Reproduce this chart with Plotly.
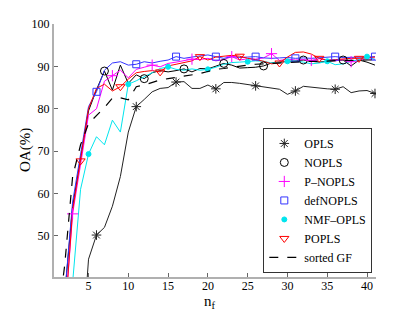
import plotly.graph_objects as go

n_f = list(range(1, 42))

opls = [10, 12, 15, 18, 44.5, 50.2, 52, 57, 64, 74.5,
        80.5, 82.2, 84, 84.8, 85, 86.3, 86.4, 84.8, 84.8, 85.6,
        84.7, 86.2, 86.2, 86.0, 85.7, 85.4, 85.2, 84.9, 84.6, 83.4,
        84.2, 85.3, 85.1, 84.8, 84.7, 84.6, 85.2, 83.8, 84.2, 84.3, 83.6]
nopls = [20, 36, 57, 68, 79.5, 84.5, 88.9, 84.4, 90.3, 86,
         88, 87.1, 88.5, 89, 88.7, 89, 89.4, 88.7, 89.5, 89.4,
         90, 90.7, 90.3, 89.6, 89.7, 89.8, 90.1, 90.8, 91, 91.2,
         91.3, 91.5, 91.2, 91.0, 91.2, 91.3, 91.5, 90.1, 91.5, 91.0, 90.3]
p_nopls = [20, 30, 55.2, 66.5, 78.5, 80, 86.5, 87.8, 89.1, 87.3,
           89.3, 89.8, 90.3, 89.9, 90.7, 91.0, 91.3, 91.7, 91.6, 91.9,
           91.3, 91.6, 92.3, 91.5, 91.8, 91.7, 92.0, 93.0, 91.4, 91.7,
           91.5, 91.6, 91.4, 91.8, 91.5, 91.3, 91.6, 91.1, 91.6, 91.8, 91.7]
defnopls = [20, 36, 58, 69, 80.5, 84, 89.1, 90.8, 91.1, 90.3,
            90.5, 91.1, 90.8, 91.2, 91.5, 92.3, 91.9, 92.2, 92.5, 92.7,
            92.3, 91.9, 92.3, 92.1, 92.2, 92.3, 92.0, 91.9, 92.0, 92.1,
            91.9, 92.0, 91.9, 92.0, 92.2, 92.3, 92.1, 92.1, 92.2, 92.2, 92.3]
nmf_opls = [15, 25, 39, 61, 69.3, 73.4, 71.5, 77.3, 74.5, 85.8,
            86.6, 87.5, 88.5, 89.5, 89.9, 89.3, 89.1, 89.4, 89.1, 89.3,
            89.8, 90.5, 90.9, 91.0, 91.1, 91.3, 91.2, 90.8, 91.0, 91.2,
            91.3, 91.0, 90.6, 90.8, 91.2, 90.4, 90.6, 91.2, 91.6, 92.3, 91.6]
popls = [20, 30, 56, 67.7, 80, 84.8, 85.8, 84.2, 85.2, 87,
         88.5, 88.8, 89.0, 88.7, 90.1, 90.5, 90.9, 91.3, 92.3, 91.5,
         92.2, 92.4, 92.6, 92.4, 91.9, 91.6, 91.2, 90.6, 90.8, 92.2,
         93.3, 93.4, 92.9, 91.9, 91.5, 91.6, 91.8, 91.9, 91.9, 92.1, 92.2]
sorted_gf = [28, 43, 64, 71.5, 76.5, 78.3, 80.3, 82.5, 82.6, 82.1,
             85.2, 85.6, 86.2, 86.8, 87.1, 87.4, 87.7, 88.0, 88.3, 88.8,
             89.3, 89.5, 89.8, 90.1, 90.3, 90.5, 90.6, 90.8, 90.9, 91.0,
             91.1, 91.1, 91.2, 91.2, 91.3, 91.3, 91.4, 91.4, 91.5, 91.5, 91.5]

x_ticks = [5, 10, 15, 20, 25, 30, 35, 40]
y_ticks = [50, 60, 70, 80, 90, 100]

series = [
    ("OPLS", opls, "#222222", "asterisk-open", 8, 0),
    ("NOPLS", nopls, "#000000", "circle-open", 8, 1),
    ("P\u2013NOPLS", p_nopls, "#ff00ff", "cross-thin-open", 8, 2),
    ("defNOPLS", defnopls, "#3333ff", "square-open", 7, 0),
    ("NMF\u2013OPLS", nmf_opls, "#00e5ee", "circle", 5, 4),
    ("POPLS", popls, "#ff0000", "triangle-down-open", 8, 3),
]

fig = go.Figure()
for name, vals, col, sym, size, off in series:
    fig.add_trace(go.Scatter(x=n_f, y=vals, mode="lines", showlegend=False,
                             line=dict(color=col, width=1), hoverinfo="skip"))
for name, vals, col, sym, size, off in series:
    fig.add_trace(go.Scatter(x=n_f[off::5], y=vals[off::5], mode="markers", name=name,
                             marker=dict(symbol=sym, size=size, color=col,
                                         line=dict(color=col, width=1))))
fig.add_trace(go.Scatter(x=n_f, y=sorted_gf, mode="lines", name="sorted GF",
                         line=dict(color="#000000", width=1.2, dash="dash")))

axis_common = dict(showline=True, linecolor="#b0b0b0", linewidth=2, mirror=False,
                   showgrid=False, zeroline=False, ticks="inside", ticklen=4,
                   tickcolor="#666666", tickwidth=1,
                   tickfont=dict(family="Liberation Serif", size=12, color="#000000"))

fig.update_layout(
    width=415, height=312,
    margin=dict(l=54, r=39, t=24, b=35),
    plot_bgcolor="white", paper_bgcolor="white",
    xaxis=dict(range=[0.66, 41.13], tickvals=x_ticks, ticklabelstandoff=-3, **axis_common),
    yaxis=dict(range=[40.3, 100], tickvals=y_ticks, **axis_common),
    legend=dict(x=0.9885, xanchor="right", y=0.016, yanchor="bottom",
                bgcolor="white", bordercolor="#333333", borderwidth=1,
                font=dict(family="Liberation Serif", size=12, color="#000000"),
                tracegroupgap=0, itemwidth=30),
    annotations=[
        dict(text="OA(%)", xref="paper", yref="paper", x=0, y=0.5, xshift=-39,
             textangle=-90, showarrow=False,
             font=dict(family="Liberation Serif", size=15, color="#000000")),
        dict(text="n<sub>f</sub>", xref="paper", yref="paper", x=0.5, y=0,
             xshift=-5, yshift=-14, yanchor="top", showarrow=False,
             font=dict(family="Liberation Serif", size=15, color="#000000")),
    ],
)

fig.write_html("out.html", config={"displayModeBar": False},
               post_script="document.body.style.margin='0';document.body.style.padding='0';")
